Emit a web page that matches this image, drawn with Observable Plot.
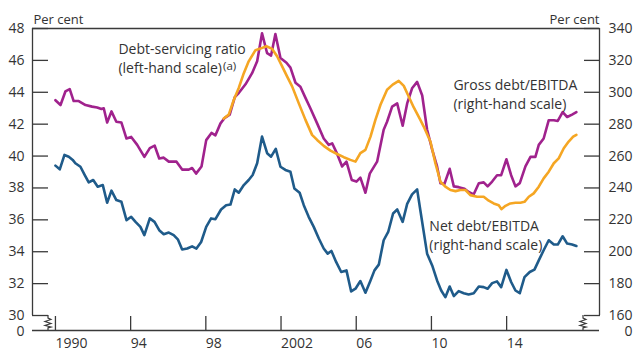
<!DOCTYPE html>
<html><head><meta charset="utf-8">
<script src="https://cdn.jsdelivr.net/npm/d3@7"></script>
<script src="https://cdn.jsdelivr.net/npm/@observablehq/plot@0.6"></script>
<style>
body{margin:0;background:#fff;}
#chart svg{font-family:"Open Sans",sans-serif;display:block;}
</style></head><body><div id="chart"></div>
<script>
// Debt-servicing ratio (left-hand scale, per cent)
const dsrYears = [1990.00,1990.27,1990.53,1990.76,1990.97,1991.24,1991.60,1991.95,1992.22,1992.45,1992.57,1992.75,1992.98,1993.24,1993.51,1993.78,1994.03,1994.35,1994.73,1995.02,1995.28,1995.52,1995.76,1996.03,1996.44,1996.74,1997.09,1997.27,1997.48,1997.77,1998.02,1998.30,1998.51,1998.78,1999.01,1999.27,1999.54,1999.75,2000.11,2000.46,2000.73,2000.99,2001.26,2001.47,2001.70,2001.97,2002.29,2002.50,2002.77,2003.03,2003.30,2003.56,2003.92,2004.27,2004.54,2004.72,2004.98,2005.25,2005.48,2005.76,2006.01,2006.22,2006.49,2006.72,2007.11,2007.46,2007.64,2007.91,2008.18,2008.47,2008.71,2008.97,2009.24,2009.51,2009.77,2010.04,2010.30,2010.48,2010.69,2010.97,2011.19,2011.45,2011.76,2011.98,2012.25,2012.52,2012.78,2012.99,2013.23,2013.49,2013.71,2013.99,2014.24,2014.47,2014.70,2015.00,2015.27,2015.53,2015.71,2015.97,2016.24,2016.51,2016.72,2016.98,2017.22,2017.48,2017.71];
const dsrValues = [43.5,43.2,44.05,44.2,43.45,43.45,43.2,43.1,43.05,42.95,43.0,42.1,42.8,42.15,42.1,41.1,41.2,40.7,39.95,40.5,40.65,39.85,39.9,39.65,39.65,39.15,39.15,39.25,38.9,39.35,41.0,41.45,41.3,42.05,42.4,42.6,43.7,43.95,44.5,45.2,45.95,47.7,46.45,46.3,47.65,46.15,45.85,45.55,44.6,44.35,43.65,43.0,42.05,41.1,40.7,40.8,40.15,39.35,39.65,38.5,38.4,38.65,37.7,38.9,39.65,41.65,42.15,43.1,43.3,41.9,43.3,44.25,44.65,43.8,41.65,40.4,39.35,38.3,38.25,39.2,38.1,38.05,37.95,37.75,37.6,38.3,38.35,38.1,38.4,38.8,38.8,39.8,38.8,38.1,38.3,39.35,39.95,39.95,40.7,41.1,42.25,42.25,42.2,42.75,42.45,42.6,42.75];

// Gross debt/EBITDA (right-hand scale, per cent)
const grossYears = [1998.95,1999.22,1999.48,1999.75,2000.02,2000.28,2000.64,2000.90,2001.22,2001.53,2001.79,2002.06,2002.32,2002.59,2002.94,2003.30,2003.65,2003.92,2004.27,2004.63,2004.98,2005.34,2005.69,2005.96,2006.22,2006.49,2006.76,2007.02,2007.29,2007.64,2007.94,2008.26,2008.53,2008.79,2009.06,2009.41,2009.59,2009.95,2010.21,2010.48,2010.74,2011.01,2011.28,2011.54,2011.81,2012.07,2012.43,2012.78,2013.05,2013.31,2013.58,2013.72,2013.94,2014.20,2014.47,2014.73,2014.95,2015.18,2015.44,2015.71,2015.97,2016.24,2016.51,2016.77,2017.04,2017.30,2017.54,2017.71];
const grossValues = [283.5,286,295,302.7,312,319.4,326.4,327.4,328.9,327.2,322.6,316.3,310,303.7,293.2,282.7,273.3,270.1,266.4,263.4,261.3,259.3,257.6,256.5,261.8,263.9,272.2,282.7,292.2,301.6,304.8,307.2,304,297.4,290.5,282.7,278.5,269,255.5,243.9,240.8,238.7,238,238.7,238.7,235.5,234.5,234.5,232,230.3,229.2,226.7,228.8,230.3,230.7,230.7,231.3,234.5,236.6,240.8,246,250.2,255.5,258.6,264.9,269.1,272.2,273.3];

// Net debt/EBITDA (right-hand scale, per cent)
const netYears = [1990.00,1990.23,1990.48,1990.71,1990.92,1991.06,1991.33,1991.56,1991.77,1992.01,1992.25,1992.52,1992.75,1992.98,1993.24,1993.51,1993.78,1994.03,1994.26,1994.52,1994.73,1995.02,1995.27,1995.52,1995.76,1996.03,1996.29,1996.51,1996.74,1997.01,1997.27,1997.50,1997.75,1998.02,1998.28,1998.51,1998.81,1999.08,1999.31,1999.54,1999.75,2000.02,2000.28,2000.49,2000.73,2000.99,2001.26,2001.47,2001.72,2001.97,2002.23,2002.50,2002.71,2002.99,2003.21,2003.47,2003.74,2004.01,2004.27,2004.48,2004.68,2004.93,2005.20,2005.48,2005.73,2005.96,2006.22,2006.49,2006.76,2006.97,2007.20,2007.46,2007.70,2007.96,2008.18,2008.47,2008.71,2008.97,2009.24,2009.41,2009.77,2010.04,2010.30,2010.52,2010.74,2010.97,2011.19,2011.45,2011.72,2011.98,2012.25,2012.52,2012.78,2012.99,2013.23,2013.49,2013.71,2013.99,2014.24,2014.47,2014.70,2014.95,2015.23,2015.48,2015.71,2015.97,2016.24,2016.51,2016.72,2016.98,2017.22,2017.48,2017.71];
const netValues = [254,251.7,260.7,259.6,257.6,255.5,253.3,248.1,243.5,245,240.8,241.8,230.7,238.3,232.4,231.3,219.8,221.9,218.7,215.6,210.4,220.9,218.7,213.5,211,212,210.4,207.8,201.4,202,203.4,202,206.1,215.6,220.9,220.4,226.5,229.2,229.6,239.1,237,241.8,245,248.1,255.5,272.2,261.8,259.6,264.5,253.3,251.3,250.2,239.7,237,229.2,221.9,215.6,208.3,202,198.8,200.5,193.6,187.3,188.3,175.1,176.8,181.6,174.3,182,188.3,191.9,207.2,212.4,224,226.5,218.7,230,236,239.1,226,198.8,191.4,182,175.7,171.5,178.2,172.2,175.3,174,173.2,174,178.2,177.8,176.8,180.3,181.4,177.8,188.6,181,175.7,174,184.1,187.3,188.8,194.6,200.9,207.2,204.5,204.5,209.7,205.1,204.5,203.6];

// Axis ticks
const xTicks = [1990, 1994, 1998, 2002, 2006, 2010, 2014];
const xTickLabels = ["1990", "94", "98", "2002", "06", "10", "14"];
const leftTicks = [30, 32, 34, 36, 38, 40, 42, 44, 46, 48];
const rightTickLabels = ["160", "180", "200", "220", "240", "260", "280", "300", "320", "340"];
const breakLabel = "0";

const X0 = 1988.78, X1 = 2018.94;
const YMIN = 29.06, YMAX = 48;
const toLeft = r => (r + 140) / 10; // right-hand scale -> left-hand scale

const zip = (xs, ys) => xs.map((x, i) => ({x, y: ys[i]}));
const dsr = zip(dsrYears, dsrValues);
const gross = zip(grossYears, grossValues);
const net = zip(netYears, netValues);

const axisColor = "#3a3a3a";
const textColor = "#333";
const purple = "#a0228d", orange = "#f5a623", blue = "#1f5b8a";

const labels = [
  {x: 1993.35, y: 46.18, t: "Debt-servicing ratio\n(left-hand scale)"},
  {x: 2011.17, y: 43.95, t: "Gross debt/EBITDA\n(right-hand scale)"},
  {x: 2009.89, y: 35.11, t: "Net debt/EBITDA\n(right-hand scale)"}
];

const chart = Plot.plot({
  width: 633, height: 351,
  marginLeft: 32, marginRight: 34, marginTop: 28, marginBottom: 21,
  x: {domain: [X0, X1]},
  y: {domain: [YMIN, YMAX]},
  style: {fontFamily: "Open Sans", fontSize: "14px", color: textColor, background: "white", overflow: "visible"},
  marks: [
    Plot.ruleY([YMAX], {stroke: axisColor, strokeWidth: 1.3}),
    Plot.ruleY([YMIN], {stroke: axisColor, strokeWidth: 1.3}),
    Plot.ruleX([X0], {y1: 30, y2: YMAX, stroke: axisColor, strokeWidth: 1.3}),
    Plot.ruleX([X1], {y1: 30, y2: YMAX, stroke: axisColor, strokeWidth: 1.3}),
    Plot.axisY(leftTicks, {anchor: "left", tickSize: -16, tickFormat: () => "", stroke: axisColor, strokeWidth: 1.3, label: null}),
    Plot.axisY(leftTicks, {anchor: "left", tickSize: 0, tickPadding: 8, fill: textColor, label: null,
      tickFormat: d => String(d)}),
    Plot.axisY([YMIN], {anchor: "left", tickSize: 0, tickPadding: 8, fill: textColor, label: null, dy: 1,
      tickFormat: () => breakLabel}),
    Plot.axisY(leftTicks, {anchor: "right", tickSize: -16, tickFormat: () => "", stroke: axisColor, strokeWidth: 1.3, label: null}),
    Plot.axisY(leftTicks, {anchor: "right", tickSize: 0, tickPadding: 33, textAnchor: "end", fill: textColor, label: null,
      tickFormat: d => rightTickLabels[leftTicks.indexOf(d)]}),
    Plot.axisY([YMIN], {anchor: "right", tickSize: 0, tickPadding: 33, textAnchor: "end", fill: textColor, label: null, dy: 1,
      tickFormat: () => breakLabel}),
    Plot.axisX(xTicks, {anchor: "bottom", tickSize: -14, tickFormat: () => "", stroke: axisColor, strokeWidth: 1.3, label: null}),
    Plot.axisX(xTicks, {anchor: "bottom", tickSize: 0, tickPadding: 8, textAnchor: "start", fill: textColor, label: null,
      tickFormat: d => xTickLabels[xTicks.indexOf(d)]}),
    Plot.line(dsr, {x: "x", y: "y", stroke: purple, strokeWidth: 2.6, strokeLinejoin: "round"}),
    Plot.line(gross, {x: "x", y: d => toLeft(d.y), stroke: orange, strokeWidth: 2.6, strokeLinejoin: "round"}),
    Plot.line(net, {x: "x", y: d => toLeft(d.y), stroke: blue, strokeWidth: 2.6, strokeLinejoin: "round"}),
    Plot.text(labels, {x: "x", y: "y", text: "t", textAnchor: "start", lineHeight: 1.36, fontSize: 14, fill: textColor}),
    Plot.text(["Per cent"], {frameAnchor: "top-left", dy: -14, dx: 1, textAnchor: "start", fontSize: 13, fill: textColor}),
    Plot.text(["Per cent"], {frameAnchor: "top-right", dy: -14, textAnchor: "end", fontSize: 13, fill: textColor})
  ]
});

document.getElementById("chart").appendChild(chart);

// superscript (a) after the debt-servicing label
const svg = d3.select(chart);
svg.selectAll("tspan").filter(function() { return this.textContent === "(left-hand scale)"; })
  .each(function() {
    d3.select(this.parentNode).append("tspan").attr("dy", "-0.3em").attr("font-size", 11.5).attr("dx", 1).text("(a)");
  });

// axis break symbols
const xs = chart.scale("x"), ys = chart.scale("y");
const yTop = ys.apply(30), yBot = ys.apply(YMIN);
function zig(x) {
  const p = d3.path();
  p.moveTo(x, yTop);
  p.lineTo(x, yTop + 3);
  p.lineTo(x + 3, yTop + 4.5);
  p.lineTo(x - 3, yTop + 6.5);
  p.lineTo(x + 3, yTop + 8.5);
  p.lineTo(x - 3, yTop + 10.5);
  p.lineTo(x + 3, yTop + 12);
  p.lineTo(x, yTop + 12.8);
  p.lineTo(x, yBot);
  return p.toString();
}
[xs.apply(X0) + 16, xs.apply(X1) - 16].forEach(x => {
  svg.append("path").attr("d", zig(x)).attr("fill", "none").attr("stroke", axisColor).attr("stroke-width", 1.2);
});
</script>
</body></html>
